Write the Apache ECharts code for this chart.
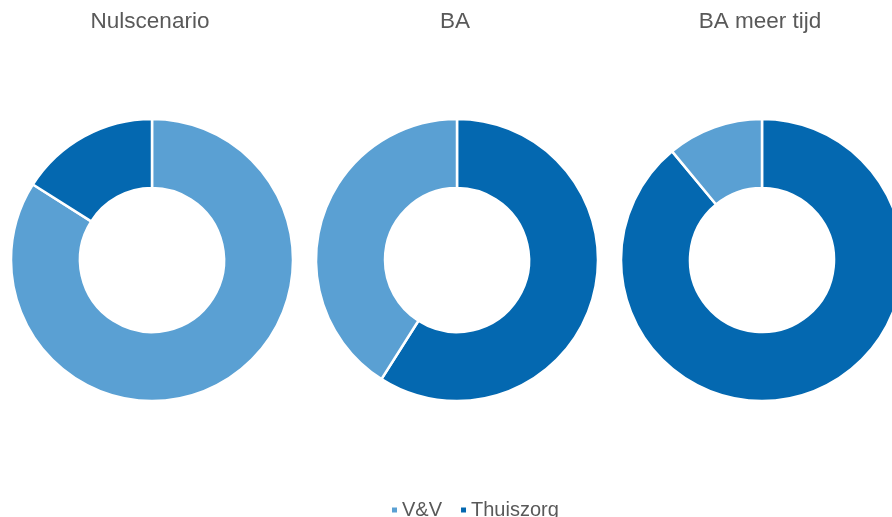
<!DOCTYPE html>
<html>
<head>
<meta charset="utf-8">
<script src="https://cdn.jsdelivr.net/npm/echarts@6/dist/echarts.min.js"></script>
<style>
  html, body { margin: 0; padding: 0; background: #fff; }
  #chart { width: 892px; height: 517px; }
</style>
</head>
<body>
<div id="chart"></div>
<script>
// data per scenario, in drawing order (clockwise from 12 o'clock)
const scenarios = ['Nulscenario', 'BA', 'BA meer tijd'];
const categories = ['V&V', 'Thuiszorg'];
const nulscenario = [{ name: 'V&V', value: 84 }, { name: 'Thuiszorg', value: 16 }];
const ba = [{ name: 'Thuiszorg', value: 59 }, { name: 'V&V', value: 41 }];
const baMeerTijd = [{ name: 'Thuiszorg', value: 89 }, { name: 'V&V', value: 11 }];
const seriesData = [nulscenario, ba, baMeerTijd];

const colors = { 'V&V': '#5aa0d3', 'Thuiszorg': '#0468b0' };
const centersX = [152, 457, 762];
const textColor = '#595959';
const font = 'Liberation Sans, Arial, sans-serif';

const chart = echarts.init(document.getElementById('chart'));

const option = {
    animation: false,
    title: scenarios.map((s, i) => ({
        text: s,
        left: centersX[i] - 2,
        top: 10,
        padding: 0,
        textAlign: 'center',
        textStyle: { color: textColor, fontSize: 22.5, fontWeight: 'normal', fontFamily: font }
    })),
    legend: {
        data: categories,
        top: 500,
        left: 390,
        padding: 0,
        itemWidth: 7,
        itemHeight: 7,
        itemGap: 17,
        icon: 'rect',
        textStyle: { color: textColor, fontSize: 20, fontFamily: font, padding: [0, 0, 0, -1] }
    },
    series: seriesData.map((d, i) => ({
        type: 'pie',
        name: scenarios[i],
        center: [centersX[i], 260],
        radius: [72, 141],
        startAngle: 90,
        clockwise: true,
        label: { show: false },
        labelLine: { show: false },
        emphasis: { disabled: true },
        itemStyle: { borderColor: '#fff', borderWidth: 2.5 },
        data: d.map(p => ({ name: p.name, value: p.value, itemStyle: { color: colors[p.name] } }))
    }))
};

chart.setOption(option);
</script>
</body>
</html>
